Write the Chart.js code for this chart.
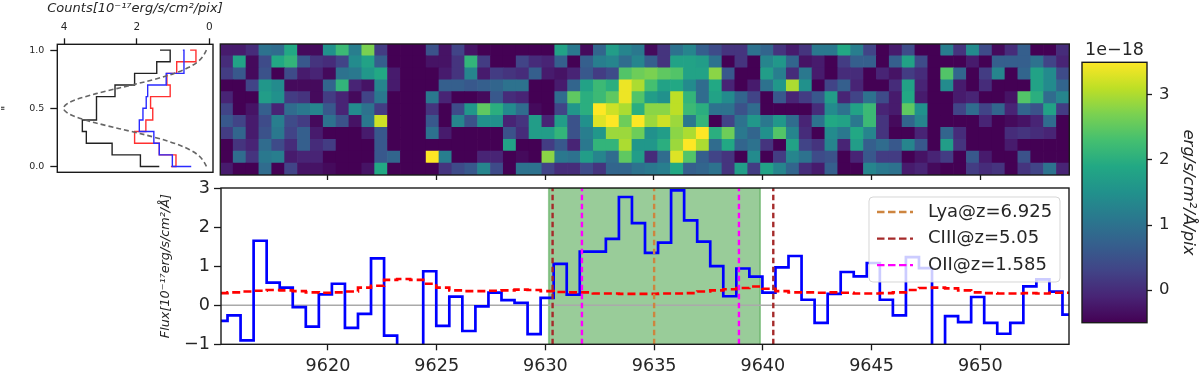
<!DOCTYPE html>
<html>
<head>
<meta charset="utf-8">
<title>Spectrum</title>
<style>
  html, body { margin: 0; padding: 0; background: #fff; }
  body { position: relative; width: 1200px; height: 384px; overflow: hidden; }
  canvas { position: absolute; filter: blur(0.4px); }
</style>
<script src="https://cdn.jsdelivr.net/npm/chart.js@4"></script>
</head>
<body>
<canvas id="profile" width="270" height="184" style="left:0;top:0"></canvas>
<canvas id="heat" width="860" height="150" style="left:215px;top:40px"></canvas>
<canvas id="spectrum" width="930" height="214" style="left:150px;top:170px"></canvas>
<canvas id="cbar" width="125" height="310" style="left:1075px;top:30px"></canvas>
<script>
var xMin = 9615.08;
var xMax = 9654.08;
var waveTicks = [9620, 9625, 9630, 9635, 9640, 9645, 9650];
var fluxTicks = [-1, 0, 1, 2, 3];
var cbarTicks = [0, 1, 2, 3];
var profileTicks = [0, 0.5, 1];
var countTicks = [0, 2, 4];
var viridis = ["#440154", "#482475", "#414487", "#355f8d", "#2a788e", "#21918c", "#22a884", "#44bf70", "#7ad151", "#bddf26", "#fde725"];

/* spectrum bins */
var wave = [9615.08, 9615.68, 9616.28, 9616.88, 9617.48, 9618.08, 9618.68, 9619.28, 9619.88, 9620.48, 9621.08, 9621.68, 9622.28, 9622.88, 9623.48, 9624.08, 9624.68, 9625.28, 9625.88, 9626.48, 9627.08, 9627.68, 9628.28, 9628.88, 9629.48, 9630.08, 9630.68, 9631.28, 9631.88, 9632.48, 9633.08, 9633.68, 9634.28, 9634.88, 9635.48, 9636.08, 9636.68, 9637.28, 9637.88, 9638.48, 9639.08, 9639.68, 9640.28, 9640.88, 9641.48, 9642.08, 9642.68, 9643.28, 9643.88, 9644.48, 9645.08, 9645.68, 9646.28, 9646.88, 9647.48, 9648.08, 9648.68, 9649.28, 9649.88, 9650.48, 9651.08, 9651.68, 9652.28, 9652.88, 9653.48, 9654.08];
var flux = [-0.4, -0.26, -0.9, 1.65, 0.58, 0.45, -0.05, -0.55, 0.28, 0.55, -0.58, -0.22, 1.2, -0.78, -1.6, -1.6, 0.87, -0.53, 0.22, -0.66, -0.03, 0.32, 0.13, 0.06, -0.74, 0.19, 1.06, 0.27, 1.37, 1.37, 1.7, 2.77, 2.1, 1.34, 1.6, 2.94, 2.17, 1.63, 1.0, 0.23, 0.94, 0.73, 0.32, 0.97, 1.26, 0.14, -0.45, 0.29, 0.85, 0.74, 1.08, 0.14, -0.26, 1.23, 0.95, -1.8, -0.28, -0.43, 0.21, -0.45, -0.73, -0.45, 0.48, 0.66, 0.35, -0.24];
var noise = [0.31, 0.33, 0.35, 0.37, 0.39, 0.38, 0.36, 0.33, 0.32, 0.33, 0.35, 0.45, 0.5, 0.65, 0.67, 0.65, 0.55, 0.45, 0.38, 0.36, 0.36, 0.37, 0.38, 0.4, 0.39, 0.36, 0.34, 0.33, 0.33, 0.3, 0.3, 0.29, 0.29, 0.29, 0.3, 0.3, 0.31, 0.35, 0.38, 0.41, 0.44, 0.48, 0.42, 0.36, 0.33, 0.33, 0.32, 0.33, 0.32, 0.3, 0.3, 0.31, 0.33, 0.39, 0.44, 0.45, 0.43, 0.38, 0.33, 0.31, 0.3, 0.3, 0.31, 0.3, 0.32, 0.32];
var bandEdges = [9630.15, 9639.88];
var lyaWaves = [9635.0];
var ciiiWaves = [9630.33, 9640.48];
var oiiWaves = [9631.68, 9638.9];
var legendLabels = ["Lya@z=6.925", "CIII@z=5.05", "OII@z=1.585"];
var legendColors = ["#cd853f", "#a52a2a", "#ff00ff"];

/* profile panel */
var profileY = [0, 0.1, 0.2, 0.3, 0.4, 0.5, 0.6, 0.7, 0.8, 0.9, 1, 1];
var countsBlack = [1.38, 1.9, 2.68, 3.39, 3.5, 3.11, 3.11, 2.6, 2.06, 1.45, 1.08, 1.36];
var countsRed = [1.06, 0.92, 1.38, 2.06, 1.75, 1.56, 1.62, 1.08, 1.17, 0.9, 0.37, 0.53];
var countsBlue = [0.5, 1.02, 1.38, 1.53, 1.93, 1.83, 1.74, 1.70, 1.19, 0.7, 0.7, 0.73];
var gaussY = [0, 0.05, 0.1, 0.15, 0.2, 0.25, 0.3, 0.35, 0.4, 0.45, 0.5, 0.55, 0.6, 0.65, 0.7, 0.75, 0.8, 0.85, 0.9, 0.95, 1];
var gaussCounts = [0.08, 0.17, 0.32, 0.58, 0.97, 1.5, 2.14, 2.82, 3.42, 3.86, 4.02, 3.86, 3.42, 2.82, 2.14, 1.5, 0.97, 0.58, 0.32, 0.17, 0.08];

/* image rows, top to bottom, in 1e-18 */
var heatRows = [
  [-0.2, -0.2, 0, 1, 0.9, 1.9, -0.4, -0.4, 1.5, 2.2, 1.2, 2.7, 0.2, -0.5, -0.5, -0.5, 0.5, -0.3, 0.3, -0.3, -0.5, -0.5, -0.5, -0.5, -0.5, -0.5, 1.8, 1.1, -0.4, 0.8, 1.7, 1.3, 1.1, -0.4, 0.1, 1, 1.3, 0.7, 0.4, 0.1, 0.1, 1, 0.8, 0.1, -0.2, 0.1, 1.1, 1.1, 1.9, 1.2, 0.3, -0.5, -0.2, 0.4, -0.5, -0.5, 1.2, 0.1, 1.4, 0.4, -0.4, 0, 0.7, -0.5, -0.5, 0],
  [0, 1.8, -0.4, 0.4, 1.9, 2.1, 0.6, 0.1, 0, 0.3, 1.4, 1.8, 0.7, -0.5, -0.5, -0.5, -0.3, -0.3, 0.1, 2.1, 0.2, -0.5, -0.5, 0.3, 0, -0.1, 0.7, -0.5, 0.7, 1.2, 1.3, 0.9, 1.3, 0.7, 0.1, 1.8, 1.8, 1.7, 1, -0.5, 0.1, -0.5, 1.3, 1.6, 0.8, -0.3, -0.2, -0.5, 0.2, 0.7, 0.7, -0.5, 0.7, 1.8, 0.4, -0.5, -0.5, -0.5, -0.2, -0.5, 0.7, 0.7, 0.7, 1, 0.3, -0.1],
  [0.2, 0.6, -0.4, 0.5, -0.5, 0.4, -0.2, -0.1, -0.4, 1, 1.1, 1.6, 1.9, -0.2, -0.5, -0.5, -0.5, -0.2, 0.1, 1.3, -0.2, 0.2, 0.1, 0, 0.7, -0.2, -0.3, -0.1, 0.6, 0.2, 0.4, 2.4, 2.6, 2.7, 2.5, 2.4, 1.8, 1.8, 2.8, 0.6, -0.5, -0.5, 1.7, 1.2, 0, 1.1, -0.2, -0.5, 0, 0, -0.5, -0.1, -0.3, 0.2, 0, -0.5, 2.4, 0.8, -0.5, 0.2, 1.3, -0.5, 0.8, 1.8, 1.4, 0.4],
  [-0.5, -0.5, 0.3, 1.6, 1.4, -0.4, -0.4, -0.4, 0.8, 2.1, -0.1, -0.3, 1.3, -0.2, -0.5, -0.5, -0.5, 0.7, 0.7, 0.6, 0.7, 0.8, 1, 1, -0.5, -0.5, -0.2, 0.8, 1.8, 2.2, 2, 3.4, 3, 2.3, 1.8, 1.9, 1.4, 0.9, 1.9, -0.1, -0.5, -0.2, 1, 1.6, 3, 1.5, -0.5, 0.3, 0.7, -0.1, -0.5, -0.5, 0, 1.8, -0.1, -0.5, 1.4, -0.2, -0.5, 0, -0.5, -0.5, -0.5, 1.8, 1.4, 0.8],
  [-0.1, -0.5, -0.5, 1.7, 1.5, 0.2, 0.1, -0.4, 0.2, -0.1, -0.4, 0.3, 1.1, -0.5, -0.5, -0.5, 1.1, -0.1, -0.5, -0.5, -0.4, 0.6, 0, -0.1, -0.5, -0.5, 0.9, 2.5, 2, 2.2, 2.5, 3.4, 2.4, 1.7, 1.5, 3.1, 2.1, 0.9, 1.8, 1.4, 0.8, 0.3, -0.5, 0.6, -0.1, 0.2, 0.6, 1.7, -0.1, 0.3, 1, 0.4, -0.2, 1.9, -0.2, -0.5, -0.5, -0.2, -0.1, -0.5, -0.5, -0.3, 2.4, 2, 0.9, 1.3],
  [0.3, -0.5, -0.3, 0.7, -0.1, 0.9, 1.1, 1.3, 0.6, -0.1, 1.4, 1, 0.2, -0.5, -0.5, -0.5, 0.1, -0.5, 0.4, 1.6, 2.5, 2, 1.4, 0.9, -0.4, -0.5, 0.3, 1.6, 2, 3.5, 3.2, 3, 2, 2.8, 2.8, 3.1, 2.2, 2, 1, 1, 0.5, 0.9, -0.5, -0.5, -0.5, -0.5, 0, 1.4, 1, 1.8, 2.2, -0.1, -0.2, 2.5, 1.5, -0.5, -0.5, 0.3, 0.9, 0.3, 0.8, -0.1, 0.8, 0.5, 1.8, 0.2],
  [0.6, 0.3, -0.2, 0.4, 1.2, 0.4, 0.2, -0.4, 1, 0.5, -0.3, 1.1, 3.2, -0.5, -0.5, -0.5, 0.6, -0.5, 1.3, 0.5, 1.5, 1.5, -0.1, 0.1, 1.7, -0.1, 1.7, 0.5, 1.5, 3.3, 3.5, 2.6, 3.5, 2.9, 3.2, 2.9, 1.1, 2.1, -0.5, 0.3, 1, 1.6, 1.1, 1.6, 0.9, -0.1, 1, 1.9, 1.8, 1.1, 2.2, 0.1, -0.4, 0.8, 1.3, -0.5, -0.5, -0.5, -0.5, -0.1, -0.5, -0.4, -0.3, -0.1, 0.9, -0.5],
  [0.2, 0.8, -0.2, 0.5, 1.1, 0.3, 0.7, -0.2, -0.5, -0.5, -0.5, -0.2, 0.6, -0.5, -0.5, -0.5, 1, -0.2, -0.5, -0.5, -0.5, -0.5, 0.5, 0, 1.7, 1.7, 2.1, 0.5, 1.2, 1.6, 2.9, 2.9, 2.6, 1.5, 1.7, 2.8, 3, 3.5, 2, 2.6, 1.1, 0.8, 1.5, 2.4, 1.3, 0, -0.5, 1.4, 1.1, 1.9, 1.3, 0.1, -0.5, -0.5, -0.1, -0.5, 0.8, 0, -0.5, -0.5, -0.5, 0, 0.1, 0, -0.1, -0.5],
  [-0.5, 0.1, -0.1, 0.9, 0.4, 0, 0.7, 0, 0.2, -0.5, -0.5, -0.5, 0.6, -0.5, -0.5, -0.5, -0.5, -0.5, -0.5, -0.5, -0.5, -0.5, 1.8, -0.5, -0.5, 0.2, 0.6, -0.1, 1.1, 2.1, 2.1, 3, 1.6, 1.6, 2, 2.9, 3.5, 3, 0.9, 1.9, 0.8, 1, 0.1, -0.5, 1.8, 0.3, 0.1, 1.3, -0.1, 1.7, 0.7, 0.9, 0.6, 1.3, 0.6, -0.5, 1.7, 0.1, -0.5, -0.5, -0.5, -0.2, -0.5, -0.5, -0.5, -0.5],
  [-0.5, 0.9, 0.1, 1.1, 1.2, -0.2, -0.1, -0.1, -0.5, -0.5, -0.5, -0.5, 0.6, 0.8, -0.5, -0.5, 3.5, 1.2, -0.5, -0.5, -0.1, -0.1, -0.5, -0.4, -0.5, 2.8, 1.1, 1, 1.7, 1.3, 0.9, 2.5, 1.7, 0, 0.9, 3.3, 2.4, 0.7, 0.3, 0.1, -0.5, 1.4, -0.5, 0.2, 1.3, 1, 0.4, 0.5, -0.5, -0.1, 0.6, 0.2, 0.2, -0.5, -0.3, -0.1, 0.2, -0.5, 0.6, -0.2, -0.5, -0.5, 0.5, -0.5, -0.5, -0.5],
  [-0.2, -0.5, -0.5, 0.9, -0.5, 0.3, -0.3, -0.3, -0.4, -0.5, -0.5, -0.3, 1.9, -0.5, -0.5, -0.5, -0.5, 0.1, 0.4, 0.6, 1.3, 0.4, -0.5, 1, 1, 0.3, 0, 0, 0.4, 0.1, 0.8, 0.8, 1, 1.1, 1.2, 1.9, 0.7, 0.8, 1, 0.1, 1.7, 0.2, 1.8, 1.3, 0.8, 0, -0.2, 0.7, -0.5, -0.5, 1.3, 1.1, 1, -0.2, -0.1, -0.4, -0.5, -0.5, 0.2, 0, 0.1, -0.5, 0.1, 0.3, 1, -0.1]
];

var frameColor = "#1a1a1a";
var textColor = "#262626";
Chart.defaults.font.family = '"DejaVu Sans", sans-serif';
Chart.defaults.color = textColor;
Chart.defaults.animation = false;
Chart.defaults.plugins.legend.display = false;
Chart.defaults.plugins.tooltip.enabled = false;

function hexRgb(h) {
  return [parseInt(h.slice(1, 3), 16), parseInt(h.slice(3, 5), 16), parseInt(h.slice(5, 7), 16)];
}

function heatColor(v) {
  var t = Math.min(Math.max((v + 0.5) / 4, 0), 1) * (viridis.length - 1);
  var i = Math.min(Math.floor(t), viridis.length - 2);
  var a = hexRgb(viridis[i]);
  var b = hexRgb(viridis[i + 1]);
  var f = t - i;
  return "rgb(" + a.map(function (c, k) { return Math.round(c + (b[k] - c) * f); }).join(",") + ")";
}

function fixedTicks(list) {
  return function (axis) {
    axis.ticks = list.map(function (v) { return { value: v }; });
  };
}

function tickGrid(len) {
  return { drawOnChartArea: false, tickLength: len, tickWidth: 1.3, tickColor: frameColor };
}

function zip(xs, ys) {
  return xs.map(function (x, i) { return { x: x, y: ys[i] }; });
}

var framePlugin = {
  id: "frame",
  afterDatasetsDraw: function (chart) {
    var a = chart.chartArea;
    var ctx = chart.ctx;
    ctx.save();
    ctx.strokeStyle = frameColor;
    ctx.lineWidth = 1.4;
    ctx.strokeRect(a.left, a.top, a.right - a.left, a.bottom - a.top);
    ctx.restore();
  }
};

/* translucent legend box, sits on top of the lines */
var legendBox = {
  id: "legendBox",
  afterDatasetsDraw: function (chart) {
    var ctx = chart.ctx;
    ctx.save();
    ctx.beginPath();
    ctx.roundRect(719, 27, 191, 85, 4);
    ctx.fillStyle = "rgba(255,255,255,0.8)";
    ctx.fill();
    ctx.strokeStyle = "rgba(204,204,204,0.8)";
    ctx.lineWidth = 1;
    ctx.stroke();
    ctx.font = '18px "DejaVu Sans"';
    ctx.textBaseline = "middle";
    legendLabels.forEach(function (label, i) {
      var y = 42 + i * 26.6;
      ctx.strokeStyle = legendColors[i];
      ctx.lineWidth = 2.3;
      ctx.setLineDash([7.5, 3.5]);
      ctx.beginPath();
      ctx.moveTo(727, y);
      ctx.lineTo(763, y);
      ctx.stroke();
      ctx.setLineDash([]);
      ctx.fillStyle = textColor;
      ctx.fillText(label, 778, y);
    });
    ctx.restore();
  }
};

/* profile panel */
function profileLine(xs, ys, color) {
  return { data: zip(xs, ys), borderColor: color, borderWidth: 1.4, pointRadius: 0, stepped: true };
}

new Chart(document.getElementById("profile"), {
  type: "line",
  data: {
    datasets: [
      { data: zip(gaussCounts, gaussY), borderColor: "#666666", borderWidth: 1.6, borderDash: [5, 3], pointRadius: 0, tension: 0.35 },
      profileLine(countsBlue, profileY, "#2a2aff"),
      profileLine(countsRed, profileY, "#ff3030"),
      profileLine(countsBlack, profileY, "#222222")
    ]
  },
  options: {
    responsive: false,
    layout: { padding: { bottom: 9 } },
    plugins: {
      // axis titles get squeezed to the plot width, this one is wider than the panel
      title: { display: true, text: "Counts[10⁻¹⁷erg/s/cm²/pix]", font: { size: 13, style: "italic", weight: "normal" }, color: textColor, padding: { top: 1, bottom: 0 } }
    },
    scales: {
      x: {
        type: "linear",
        position: "top",
        reverse: true,
        min: -0.1,
        max: 4.19,
        afterBuildTicks: fixedTicks(countTicks),
        afterFit: function (s) { s.height = 27.7; },
        ticks: { font: { size: 10.5 }, padding: 5, maxRotation: 0, callback: function (v) { return String(v); } },
        grid: tickGrid(6),
        border: { display: false }
      },
      y: {
        type: "linear",
        min: -0.05,
        max: 1.05,
        afterBuildTicks: fixedTicks(profileTicks),
        afterFit: function (s) { s.width = 57.3; },
        ticks: { font: { size: 9.5 }, padding: 6, callback: function (v) { return v.toFixed(1); } },
        grid: tickGrid(7),
        border: { display: false },
        title: { display: true, text: '"', font: { size: 12 }, color: textColor, padding: { top: 0, bottom: 0 } }
      },
      // empty axis keeps the plot narrow so the title can centre over it
      spacer: {
        type: "linear",
        position: "right",
        afterFit: function (s) { s.width = 57; },
        ticks: { display: false },
        grid: { display: false },
        border: { display: false }
      }
    }
  },
  plugins: [framePlugin]
});

/* image panel, one stacked bar per cell */
var cellWidth = (xMax - xMin) / heatRows[0].length;
var heatSets = heatRows.slice().reverse().map(function (row) {
  return {
    data: row.map(function (v, c) { return { x: xMin + (c + 0.5) * cellWidth, y: 1 }; }),
    backgroundColor: row.map(heatColor),
    borderWidth: 0,
    barPercentage: 1,
    categoryPercentage: 1
  };
});

new Chart(document.getElementById("heat"), {
  type: "bar",
  data: { datasets: heatSets },
  options: {
    responsive: false,
    layout: { padding: { left: 5.3, right: 5.7, top: 4 } },
    scales: {
      x: {
        type: "linear",
        stacked: true,
        offset: false,
        min: xMin,
        max: xMax,
        afterBuildTicks: fixedTicks(waveTicks),
        afterFit: function (s) { s.height = 15; },
        ticks: { display: false },
        grid: { drawOnChartArea: false, offset: false, tickLength: 5, tickWidth: 1.3, tickColor: frameColor },
        border: { display: false }
      },
      y: { type: "linear", stacked: true, min: 0, max: heatRows.length, display: false }
    }
  },
  plugins: [framePlugin]
});

/* spectrum panel */
function vline(x, color) {
  return { data: [{ x: x, y: -1 }, { x: x, y: 3 }], borderColor: color, borderWidth: 2.4, borderDash: [5.5, 3.5], pointRadius: 0 };
}

var spectrumSets = []
  .concat(oiiWaves.map(function (x) { return vline(x, legendColors[2]); }))
  .concat(ciiiWaves.map(function (x) { return vline(x, legendColors[1]); }))
  .concat(lyaWaves.map(function (x) { return vline(x, legendColors[0]); }))
  .concat([
    { data: zip(wave, noise), borderColor: "#ff0000", borderWidth: 2.6, borderDash: [8, 4], pointRadius: 0, stepped: "middle" },
    { data: zip(wave, flux), borderColor: "#0000ff", borderWidth: 2.7, pointRadius: 0, stepped: "middle" },
    { data: [{ x: xMin, y: 0 }, { x: xMax, y: 0 }], borderColor: "#aaaaaa", borderWidth: 1.5, pointRadius: 0 },
    {
      data: [{ x: bandEdges[0], y: -1 }, { x: bandEdges[0], y: 3 }, { x: bandEdges[1], y: 3 }, { x: bandEdges[1], y: -1 }],
      borderColor: "rgba(0,128,0,0.4)",
      borderWidth: 1.5,
      backgroundColor: "rgba(0,128,0,0.4)",
      fill: "start",
      pointRadius: 0
    }
  ]);

new Chart(document.getElementById("spectrum"), {
  type: "line",
  data: { datasets: spectrumSets },
  options: {
    responsive: false,
    layout: { padding: { top: 18, right: 11 } },
    scales: {
      x: {
        type: "linear",
        min: xMin,
        max: xMax,
        afterBuildTicks: fixedTicks(waveTicks),
        afterFit: function (s) { s.height = 39.7; },
        ticks: { font: { size: 17.6 }, padding: 6, maxRotation: 0, callback: function (v) { return String(v); } },
        grid: tickGrid(6),
        border: { display: false }
      },
      y: {
        type: "linear",
        min: -1,
        max: 3,
        afterBuildTicks: fixedTicks(fluxTicks),
        afterFit: function (s) { s.width = 71; },
        ticks: { font: { size: 17.6 }, padding: 4, callback: function (v) { return String(v).replace("-", "−"); } },
        grid: tickGrid(7),
        border: { display: false },
        title: { display: true, text: "Flux[10⁻¹⁷erg/s/cm²/Å]", font: { size: 12.8, style: "italic" }, color: textColor, padding: { top: 8, bottom: 0 } }
      }
    }
  },
  plugins: [framePlugin, legendBox]
});

/* colorbar */
new Chart(document.getElementById("cbar"), {
  type: "bar",
  data: {
    labels: [""],
    datasets: [{
      data: [[-0.5, 3.5]],
      barPercentage: 1,
      categoryPercentage: 1,
      borderWidth: 0,
      backgroundColor: function (c) {
        var a = c.chart.chartArea;
        if (!a) return viridis[0];
        var g = c.chart.ctx.createLinearGradient(0, a.bottom, 0, a.top);
        viridis.forEach(function (col, i) { g.addColorStop(i / (viridis.length - 1), col); });
        return g;
      }
    }]
  },
  options: {
    responsive: false,
    layout: { padding: { left: 7, top: 9.8, bottom: 17.3 } },
    plugins: {
      title: { display: true, text: "1e−18", fullSize: false, font: { size: 17.5, weight: "normal" }, color: textColor, padding: { top: 0, bottom: 1.5 } }
    },
    scales: {
      x: { display: false },
      y: {
        type: "linear",
        position: "right",
        min: -0.5,
        max: 3.5,
        afterBuildTicks: fixedTicks(cbarTicks),
        afterFit: function (s) { s.width = 53; },
        ticks: { font: { size: 16.5 }, padding: 7, callback: function (v) { return String(v); } },
        grid: tickGrid(5),
        border: { display: false },
        title: { display: true, text: "erg/s/cm²/Å/pix", font: { size: 16.5, style: "italic" }, color: textColor, padding: { top: 2, bottom: 0 } }
      }
    }
  },
  plugins: [framePlugin]
});
</script>
</body>
</html>
